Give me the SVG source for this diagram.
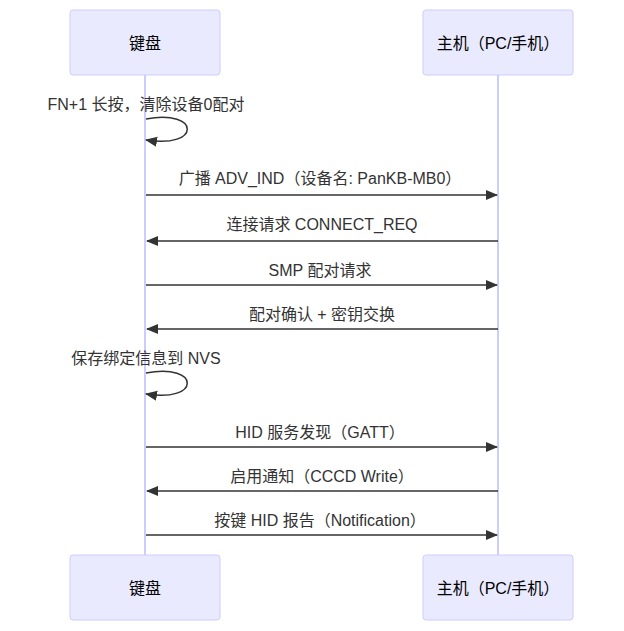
<svg xmlns="http://www.w3.org/2000/svg" width="624" height="631" viewBox="0 0 624 631">
<style>
.box{fill:#eaeaff;stroke:#ccccff;stroke-width:1}
.life{stroke:#ccccff;stroke-width:2}
.t{font-family:"Liberation Sans","Noto Sans CJK SC",sans-serif;font-size:16px;fill:#333;text-anchor:middle}
.m{stroke:#333;stroke-width:1.5;fill:none}
.p{font-family:"Liberation Sans","Noto Sans CJK SC",sans-serif;font-size:16px;fill:#000;text-anchor:middle;dominant-baseline:central}
</style>
<defs>
<marker id="ah" viewBox="0 0 12 12" refX="11" refY="6" markerWidth="12" markerHeight="12" markerUnits="userSpaceOnUse" orient="auto"><path d="M0,1 L12,6 L0,11 z" fill="#333"/></marker>
</defs>
<g id="lifelines">
<line class="life" x1="145" y1="75" x2="145" y2="555"/>
<line class="life" x1="498" y1="75" x2="498" y2="555"/>
</g>
<g id="kb-top"><rect class="box" x="70" y="10" width="150" height="65" rx="3"/><text class="p" x="145" y="43">键盘</text></g>
<g id="host-top"><rect class="box" x="423" y="10" width="150" height="65" rx="3"/><text class="p" x="498" y="43">主机（PC/手机）</text></g>
<g id="kb-bottom"><rect class="box" x="70" y="555" width="150" height="65" rx="3"/><text class="p" x="145" y="588">键盘</text></g>
<g id="host-bottom"><rect class="box" x="423" y="555" width="150" height="65" rx="3"/><text class="p" x="498" y="588">主机（PC/手机）</text></g>
<g id="connectors">
<text class="t" x="146" y="110">FN+1 长按，清除设备0配对</text>
<path class="m" d="M146,119 C201,109 201,149 146,140" marker-end="url(#ah)"/>
<text class="t" x="320" y="184">广播 ADV_IND（设备名: PanKB-MB0）</text>
<line class="m" x1="146" y1="195" x2="497" y2="195" marker-end="url(#ah)"/>
<text class="t" x="322" y="230">连接请求 CONNECT_REQ</text>
<line class="m" x1="498" y1="241" x2="147" y2="241" marker-end="url(#ah)"/>
<text class="t" x="320" y="276">SMP 配对请求</text>
<line class="m" x1="146" y1="285" x2="497" y2="285" marker-end="url(#ah)"/>
<text class="t" x="322" y="320">配对确认 + 密钥交换</text>
<line class="m" x1="498" y1="329" x2="147" y2="329" marker-end="url(#ah)"/>
<text class="t" x="146" y="364">保存绑定信息到 NVS</text>
<path class="m" d="M146,373 C201,363 201,403 146,394" marker-end="url(#ah)"/>
<text class="t" x="320" y="438">HID 服务发现（GATT）</text>
<line class="m" x1="146" y1="447" x2="497" y2="447" marker-end="url(#ah)"/>
<text class="t" x="322" y="482">启用通知（CCCD Write）</text>
<line class="m" x1="498" y1="491" x2="147" y2="491" marker-end="url(#ah)"/>
<text class="t" x="320" y="526">按键 HID 报告（Notification）</text>
<line class="m" x1="146" y1="535" x2="497" y2="535" marker-end="url(#ah)"/>
</g>
</svg>
